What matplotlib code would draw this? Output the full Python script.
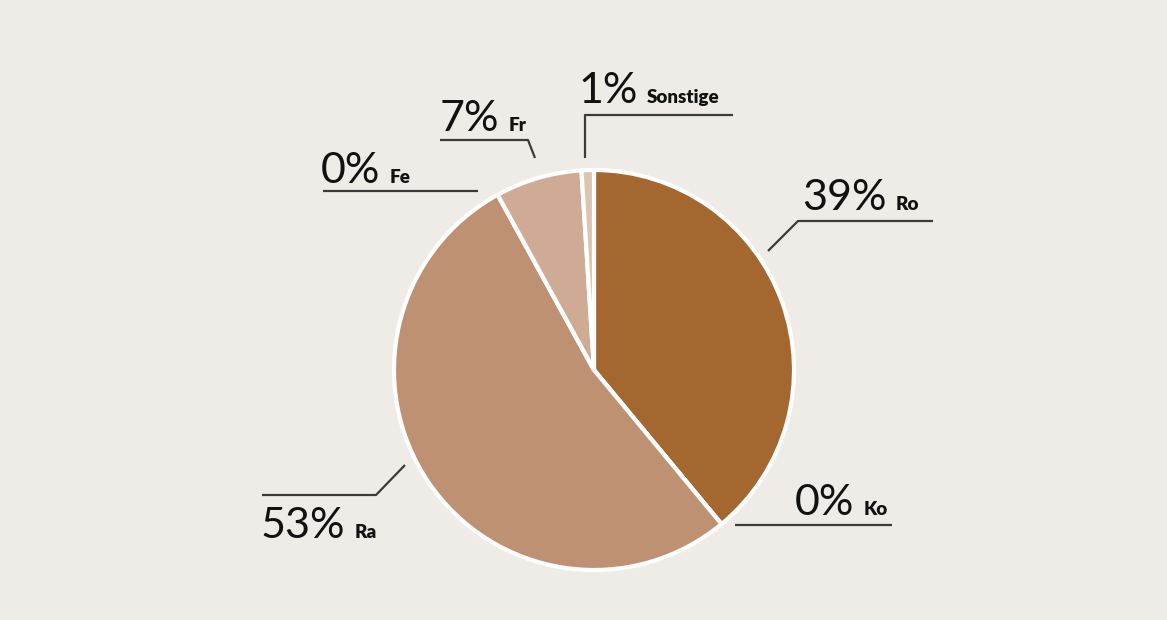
import numpy as np
import matplotlib.pyplot as plt

# --- data ---
labels = ["Ro", "Ko", "Ra", "Fe", "Fr", "Sonstige"]
values = [39, 0, 53, 0, 7, 1]
pct_text = ["39%", "0%", "53%", "0%", "7%", "1%"]
colors = ["#a3672f", "#b07a52", "#be9173", "#c7a085", "#cfab95", "#dcc4b3"]

# --- layout (figure pixels, y from top) ---
W, H = 1167, 620
cx, cy, R = 594, 370, 200
lay = {
    "Ro": dict(x=802, y=210, line=[(768, 251), (798, 221), (933, 221)]),
    "Ko": dict(x=795, y=515, line=[(735, 525), (892, 525)]),
    "Ra": dict(x=261, y=538, line=[(405, 465), (376, 495), (262, 495)]),
    "Fe": dict(x=321, y=183, line=[(478, 191), (323, 191)]),
    "Fr": dict(x=440, y=131, line=[(535, 158), (528, 140), (440, 140)]),
    "Sonstige": dict(x=578, y=103, line=[(585, 158), (585, 115), (733, 115)]),
}

fig = plt.figure(figsize=(W / 100, H / 100), dpi=100)
bg = "#efebe6"
fig.patch.set_facecolor(bg)
ax = fig.add_axes([0, 0, 1, 1])
ax.set_facecolor(bg)

ax.pie(values, center=(cx, H - cy), radius=R, startangle=90, counterclock=False,
       colors=colors, wedgeprops=dict(edgecolor="white", linewidth=3))

ax.set_xlim(0, W)
ax.set_ylim(0, H)
ax.set_aspect("equal")
ax.axis("off")

for i, lab in enumerate(labels):
    d = lay[lab]
    xs = [p[0] for p in d["line"]]
    ys = [H - p[1] for p in d["line"]]
    ax.plot(xs, ys, color="#3b3b3b", lw=1.6, solid_capstyle="butt")
    t = ax.text(d["x"], H - d["y"], pct_text[i], fontsize=31, family="Lato",
                fontweight="normal", color="#111111", ha="left", va="baseline")
    fig.canvas.draw()
    bb = t.get_window_extent()
    ax.text(bb.x1 + 9, H - d["y"], lab, fontsize=13.5, family="Lato",
            fontweight="heavy", color="#111111", ha="left", va="baseline")

fig.savefig("out.png", dpi=100, facecolor=fig.get_facecolor())
